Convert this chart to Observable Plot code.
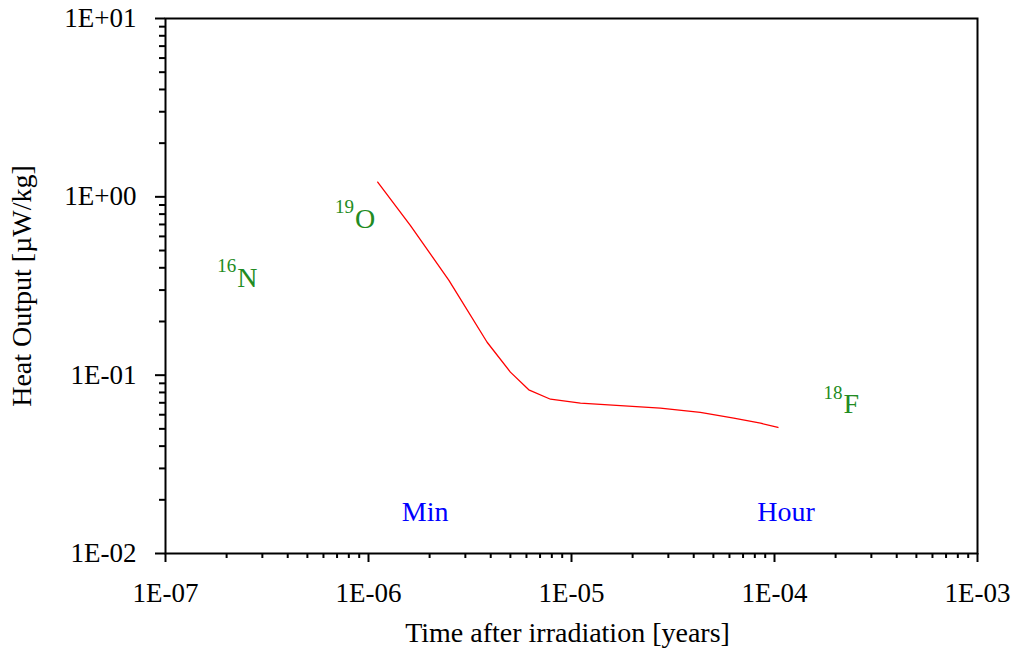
<!DOCTYPE html>
<html><head><meta charset="utf-8">
<script src="https://cdn.jsdelivr.net/npm/d3@7"></script>
<script src="https://cdn.jsdelivr.net/npm/@observablehq/plot@0.6"></script>
<style>
html,body{margin:0;padding:0;background:#fff}
#chart{width:1016px;height:653px}
</style>
</head><body><div id="chart"></div>
<script>
// Heat curve (time in years, heat output in µW/kg)
const timeYears  = [1.11e-6, 1.61e-6, 2.49e-6, 3.84e-6, 5.0e-6, 6.16e-6, 7.88e-6, 1.107e-5, 2.74e-5, 4.31e-5, 6.30e-5, 8.53e-5, 1.04e-4];
const heatOutput = [1.21, 0.69, 0.34, 0.153, 0.104, 0.0828, 0.0733, 0.0697, 0.0654, 0.0619, 0.0574, 0.0538, 0.0509];

// Isotope annotations
const isotopeMass    = ["16", "19", "18"];
const isotopeElement = ["N", "O", "F"];
const isotopeTime    = [2.255e-7, 8.58e-7, 2.188e-4];
const isotopeHeat    = [0.351, 0.751, 0.0685];

// Time markers
const markerLabel = ["Min", "Hour"];
const markerTime  = [1.90e-6, 1.14e-4];
const markerHeat  = [0.017, 0.017];

// Axis ticks
const xMajorTicks = [1e-7, 1e-6, 1e-5, 1e-4, 1e-3];
const xTickLabels = ["1E-07", "1E-06", "1E-05", "1E-04", "1E-03"];
const yMajorTicks = [1e-2, 1e-1, 1e0, 1e1];
const yTickLabels = ["1E-02", "1E-01", "1E+00", "1E+01"];

const xTitle = "Time after irradiation [years]";
const yTitle = "Heat Output [µW/kg]";

const curve = timeYears.map((t, i) => ({t, h: heatOutput[i]}));
const isotopes = isotopeElement.map((e, i) => ({e, m: isotopeMass[i], t: isotopeTime[i], h: isotopeHeat[i]}));
const markers = markerLabel.map((l, i) => ({l, t: markerTime[i], h: markerHeat[i]}));

const xDomain = [1e-7, 1e-3];
const yDomain = [1e-2, 1e1];
const isMajor = (d, majors) => majors.some(m => Math.abs(d / m - 1) < 1e-9);
const xMinorTicks = d3.scaleLog().domain(xDomain).ticks().filter(d => !isMajor(d, xMajorTicks));
const yMinorTicks = d3.scaleLog().domain(yDomain).ticks().filter(d => !isMajor(d, yMajorTicks));

const W = 1016, H = 653, ML = 165, MR = 39, MT = 18, MB = 100;
const frameW = W - ML - MR, frameH = H - MT - MB;
const xMinorLen = 5, yMinorLen = 6;

const green = "#228B22";

const chart = Plot.plot({
  width: W,
  height: H,
  marginLeft: ML,
  marginRight: MR,
  marginTop: MT,
  marginBottom: MB,
  style: {fontFamily: "'Liberation Serif', 'Times New Roman', serif", fontSize: "27px", color: "black", background: "white", overflow: "visible"},
  x: {type: "log", domain: xDomain},
  y: {type: "log", domain: yDomain},
  marks: [
    // minor ticks (outside the frame)
    Plot.tickX(xMinorTicks, {x: d => d, insetTop: frameH - xMinorLen, dy: xMinorLen, stroke: "black", strokeWidth: 2}),
    Plot.tickY(yMinorTicks, {y: d => d, insetRight: frameW - yMinorLen, dx: -yMinorLen, stroke: "black", strokeWidth: 2}),
    // major ticks with labels
    Plot.axisX({ticks: xMajorTicks, tickSize: 9, tickPadding: 20, tickFormat: d => xTickLabels[xMajorTicks.indexOf(d)], fontSize: 27, strokeWidth: 2, label: null}),
    Plot.axisY({ticks: yMajorTicks, tickSize: 10, tickPadding: 19, tickFormat: d => yTickLabels[yMajorTicks.indexOf(d)], fontSize: 27, strokeWidth: 2, label: null}),
    Plot.line(curve, {x: "t", y: "h", stroke: "#ff0000", strokeWidth: 1.3}),
    Plot.text(isotopes, {x: "t", y: "h", text: "e", textAnchor: "start", fill: green, fontSize: 28}),
    Plot.text(isotopes, {x: "t", y: "h", text: "m", textAnchor: "end", dx: -1, dy: -12, fill: green, fontSize: 19}),
    Plot.text(markers, {x: "t", y: "h", text: "l", fill: "#0000ff", fontSize: 28}),
    Plot.text([xTitle], {text: d => d, frameAnchor: "bottom", textAnchor: "middle", lineAnchor: "middle", dy: 80, dx: -4, fontSize: 28}),
    Plot.text([yTitle], {text: d => d, frameAnchor: "left", textAnchor: "middle", lineAnchor: "middle", rotate: -90, dx: -143.5, fontSize: 28}),
    Plot.frame({stroke: "black", strokeWidth: 2})
  ]
});
document.getElementById("chart").appendChild(chart);
</script>
</body></html>
